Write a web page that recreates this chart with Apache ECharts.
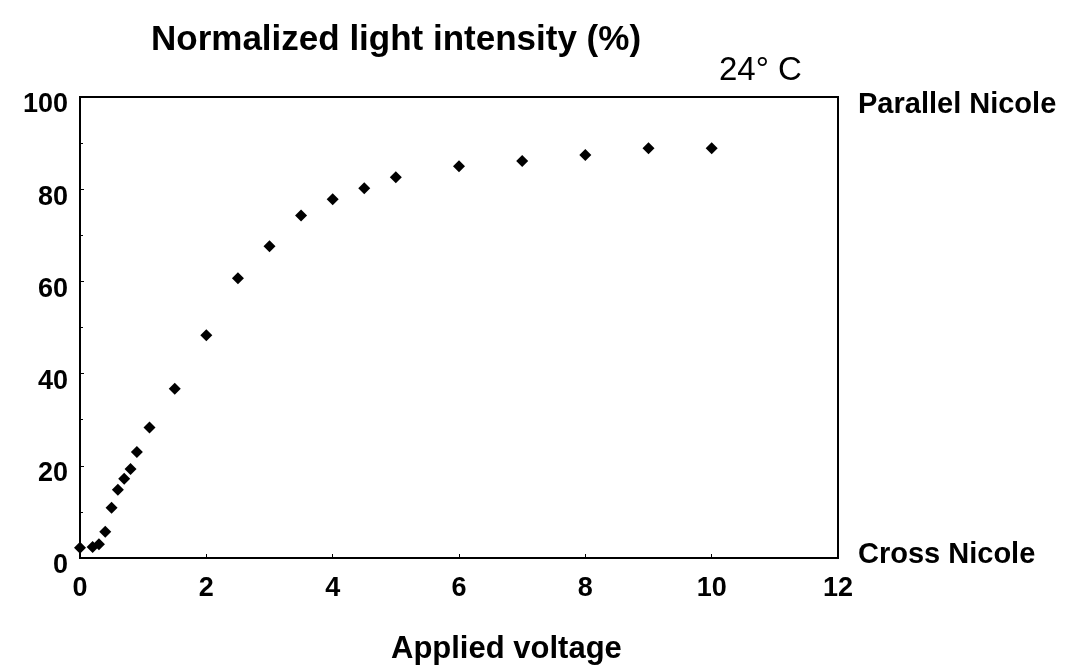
<!DOCTYPE html>
<html lang="en">
<head>
    <meta charset="utf-8">
    <script src="https://cdn.jsdelivr.net/npm/echarts@6/dist/echarts.min.js"></script>
    <style>
        html, body { margin: 0; padding: 0; background: #fff; }
        #chart { width: 1078px; height: 666px; }
    </style>
</head>
<body>
<div id="chart"></div>
<script>
    // applied voltage (x) and normalized intensity (%)
    var voltage = [0, 0.2, 0.3, 0.4, 0.5, 0.6, 0.7, 0.8, 0.9, 1.1, 1.5, 2, 2.5, 3, 3.5, 4, 4.5, 5, 6, 7, 8, 9, 10];
    var intensity = [2.2, 2.4, 3, 5.7, 10.9, 14.8, 17.2, 19.3, 23, 28.3, 36.7, 48.3, 60.7, 67.6, 74.3, 77.8, 80.2, 82.6, 85, 86.1, 87.4, 88.9, 88.9];
    var xTicks = [0, 2, 4, 6, 8, 10, 12];
    var yTicks = [0, 20, 40, 60, 80, 100];
    var rightLabels = {0: 'Cross Nicole', 100: 'Parallel Nicole'};

    var points = [];
    for (var i = 0; i < voltage.length; i++) {
        points.push([voltage[i], intensity[i]]);
    }

    var font = '"Liberation Sans", Arial, sans-serif';
    var chart = echarts.init(document.getElementById('chart'));
    chart.setOption({
        animation: false,
        title: [
            {
                text: 'Normalized light intensity (%)',
                left: 146, top: 18,
                textStyle: {fontFamily: font, fontSize: 35, fontWeight: 'bold', color: '#000'}
            },
            {
                text: '24° C',
                left: 714, top: 49,
                textStyle: {fontFamily: font, fontSize: 33, fontWeight: 'normal', color: '#000'}
            },
            {
                text: 'Applied voltage',
                left: 386, top: 629,
                textStyle: {fontFamily: font, fontSize: 31, fontWeight: 'bold', color: '#000'}
            }
        ],
        grid: {
            left: 80, right: 240, top: 97, bottom: 108,
            show: true, borderColor: '#000', borderWidth: 2
        },
        xAxis: {
            type: 'value',
            min: xTicks[0], max: xTicks[xTicks.length - 1], interval: 2,
            axisLine: {lineStyle: {color: '#000', width: 2}},
            axisTick: {inside: true, length: 4, lineStyle: {color: '#000'}},
            splitLine: {show: false},
            axisLabel: {
                margin: 17, color: '#000',
                fontFamily: font, fontSize: 27, fontWeight: 'bold'
            }
        },
        yAxis: [
            {
                type: 'value',
                min: yTicks[0], max: yTicks[yTicks.length - 1], interval: 20,
                axisLine: {show: true, lineStyle: {color: '#000', width: 2}},
                axisTick: {show: true, inside: true, length: 4, lineStyle: {color: '#000'}},
                minorTick: {show: true, splitNumber: 2, length: 3, lineStyle: {color: '#000'}},
                splitLine: {show: false},
                axisLabel: {
                    margin: 12, color: '#000',
                    formatter: function (v) { return '{t|' + v + '}'; },
                    rich: {
                        t: {
                            fontFamily: font, fontSize: 27, fontWeight: 'bold',
                            color: '#000', padding: [16, 0, 0, 0]
                        }
                    }
                }
            },
            {
                type: 'value',
                position: 'right',
                min: yTicks[0], max: yTicks[yTicks.length - 1], interval: 100,
                axisLine: {show: true, lineStyle: {color: '#000', width: 2}},
                axisTick: {show: false},
                splitLine: {show: false},
                axisLabel: {
                    margin: 20, color: '#000',
                    formatter: function (v) {
                        return v === 100 ? '{p|' + rightLabels[v] + '}' : '{c|' + rightLabels[v] + '}';
                    },
                    rich: {
                        p: {
                            fontFamily: font, fontSize: 29, fontWeight: 'bold',
                            color: '#000', padding: [16, 0, 0, 0]
                        },
                        c: {
                            fontFamily: font, fontSize: 29, fontWeight: 'bold',
                            color: '#000', padding: [0, 0, 6, 0]
                        }
                    }
                }
            }
        ],
        series: [{
            type: 'scatter',
            data: points,
            symbol: 'diamond',
            symbolSize: 12,
            clip: false,
            itemStyle: {color: '#000', opacity: 1}
        }]
    });
</script>
</body>
</html>
